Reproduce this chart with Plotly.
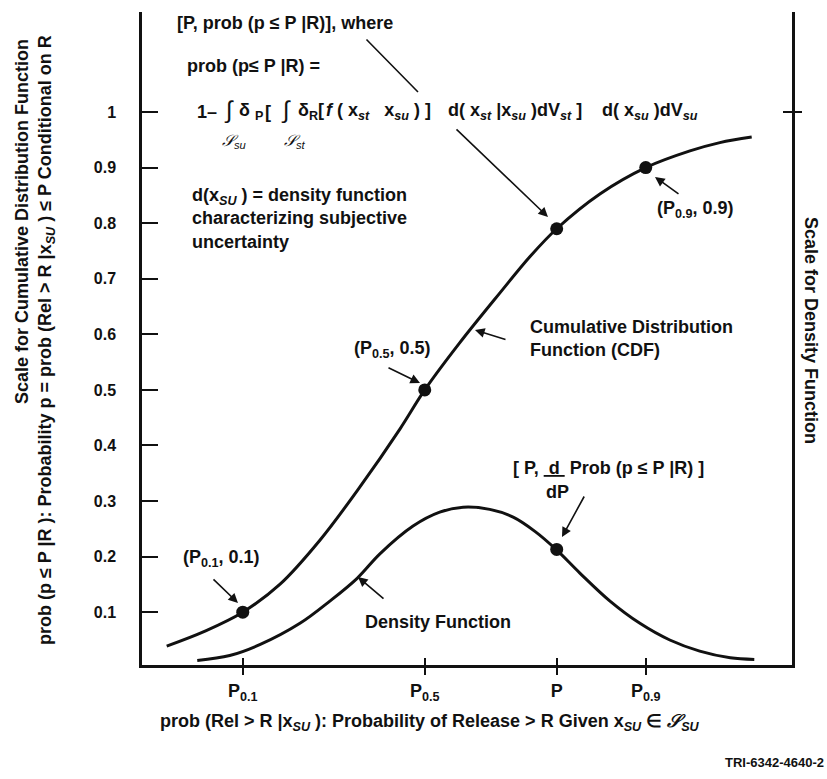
import plotly.graph_objects as go

# ---------------- data ----------------
cdf_x = [0.038, 0.097, 0.155, 0.212, 0.274, 0.335, 0.397, 0.435, 0.489, 0.551,
         0.597, 0.638, 0.705, 0.775, 0.843, 0.889, 0.938]
cdf_y = [0.039, 0.066, 0.100, 0.150, 0.230, 0.325, 0.430, 0.500, 0.585, 0.675,
         0.740, 0.790, 0.853, 0.900, 0.930, 0.945, 0.955]

dens_x = [0.085, 0.135, 0.182, 0.243, 0.289, 0.331, 0.366, 0.417, 0.458, 0.494,
          0.535, 0.571, 0.605, 0.637, 0.674, 0.720, 0.766, 0.812, 0.858, 0.905, 0.942]
dens_y = [0.013, 0.022, 0.042, 0.080, 0.120, 0.161, 0.205, 0.255, 0.280, 0.289,
          0.285, 0.271, 0.245, 0.213, 0.170, 0.120, 0.080, 0.050, 0.030, 0.018, 0.015]

x_tick_vals = [0.155, 0.435, 0.638, 0.775]
x_tick_text = ["P<sub>0.1</sub>", "P<sub>0.5</sub>", "P", "P<sub>0.9</sub>"]
cdf_pts_y = [0.10, 0.50, 0.79, 0.90]
dens_pt_x = [0.638]
dens_pt_y = [0.213]

y_tick_vals = [0.1, 0.2, 0.3, 0.4, 0.5, 0.6, 0.7, 0.8, 0.9, 1.0]
y_tick_text = ["0.1", "0.2", "0.3", "0.4", "0.5", "0.6", "0.7", "0.8", "0.9", "1"]
right_tick_vals = [1.0]

# ---------------- geometry helpers (pixels -> axis / paper units) ----------------
W, H = 827, 779
L, R, T, B = 142, 35, 12, 114
Y0, Y1 = 0.005, 1.18
PW, PH = W - L - R, H - T - B


def X(px):
    return (px - L) / PW


def Y(py):
    return Y0 + (H - B - py) / PH * (Y1 - Y0)


def PY(py):
    return (H - B - py) / PH


FONT = "Liberation Sans, Arial, Helvetica, sans-serif"
BLK = "#111111"
FS = 18

fig = go.Figure()
fig.add_trace(go.Scatter(x=cdf_x, y=cdf_y, mode="lines", line=dict(color=BLK, width=3, shape="spline"),
                         hoverinfo="skip", showlegend=False))
fig.add_trace(go.Scatter(x=dens_x, y=dens_y, mode="lines", line=dict(color=BLK, width=3, shape="spline"),
                         hoverinfo="skip", showlegend=False))
fig.add_trace(go.Scatter(x=x_tick_vals, y=cdf_pts_y, mode="markers", marker=dict(color=BLK, size=13),
                         hoverinfo="skip", showlegend=False))
fig.add_trace(go.Scatter(x=dens_pt_x, y=dens_pt_y, mode="markers", marker=dict(color=BLK, size=13),
                         hoverinfo="skip", showlegend=False))
# invisible traces to hold the auxiliary axes
fig.add_trace(go.Scatter(x=[None], y=[None], xaxis="x2", yaxis="y", showlegend=False))
fig.add_trace(go.Scatter(x=[None], y=[None], xaxis="x", yaxis="y2", showlegend=False))
fig.add_trace(go.Scatter(x=[None], y=[None], xaxis="x", yaxis="y3", showlegend=False))

ann = []


def text(px, py, s, xanchor="left", yanchor="middle", size=FS, angle=0, align="left", weight="bold"):
    ann.append(dict(x=X(px), y=PY(py), xref="paper", yref="paper", text=s, showarrow=False,
                    xanchor=xanchor, yanchor=yanchor, textangle=angle, align=align,
                    font=dict(family=FONT, size=size, color=BLK, weight=weight)))


def arrow(tx, ty, hx, hy, head=True):
    ann.append(dict(x=X(hx), y=Y(hy), ax=X(tx), ay=Y(ty), xref="x", yref="y", axref="x", ayref="y",
                    text="", showarrow=True, arrowhead=2 if head else 0, arrowsize=1.2,
                    arrowwidth=1.6, arrowcolor=BLK, standoff=0, startstandoff=0))


bx = "x"
text(175, 23, "[P, prob (p ≤ P |R)], where")
text(185, 66, "prob (p≤ P |R) =")
# formula, laid out piece by piece
FY = 112
text(195, FY, "1–")
text(222, FY - 2, "∫", size=24, weight="normal")
text(237, FY, "δ <sub>P</sub>")
text(263, FY, "[")
text(279, FY - 2, "∫", size=24, weight="normal")
text(296, FY, "δ<sub>R</sub>[")
text(324, FY, "<i>f</i> ( " + bx + "<sub><i>st</i></sub>   " + bx + "<sub><i>su</i></sub> ) ]")
text(446, FY, "d( " + bx + "<sub><i>st</i></sub> |" + bx + "<sub><i>su</i></sub> )dV<sub><i>st</i></sub> ]")
text(600, FY, "d( " + bx + "<sub><i>su</i></sub> )dV<sub><i>su</i></sub>")
text(220, 141, "<i>𝒮</i><sub><i>su</i></sub>", size=16, weight="normal")
text(282, 141, "<i>𝒮</i><sub><i>st</i></sub>", size=16, weight="normal")
text(190, 218, "d(" + bx + "<sub><i>SU</i></sub> ) = density function<br>characterizing subjective<br>uncertainty")
text(695, 210, "(P<sub>0.9</sub>, 0.9)", xanchor="center")
text(528, 338, "Cumulative Distribution<br>Function (CDF)")
text(392, 350, "(P<sub>0.5</sub>, 0.5)", xanchor="center")
text(511, 468, "[ P, <span style='text-decoration:underline'> d </span> Prob (p ≤ P |R) ]")
text(557, 492, "dP", xanchor="center")
text(221, 558, "(P<sub>0.1</sub>, 0.1)", xanchor="center")
text(363, 622, "Density Function")
text(811, 330, "Scale for Density Function", xanchor="center", angle=90)
text(22, 222, "Scale for Cumulative Distribution Function", xanchor="center", angle=-90)
text(46, 340, "prob (p ≤ P |R ): Probability p = prob (Rel > R |" + bx + "<sub><i>SU</i></sub> ) ≤ P Conditional on R",
     xanchor="center", angle=-90)
text(430, 722, "prob (Rel > R |" + bx + "<sub><i>SU</i></sub> ): Probability of Release > R Given " + bx +
     "<sub><i>SU</i></sub> ∈ <i>𝒮</i><sub><i>SU</i></sub>", xanchor="center")
text(826, 762, "TRI-6342-4640-2", xanchor="right", size=13)

arrow(365, 38, 418, 92, head=False)
arrow(455, 128, 548, 217)
arrow(680, 195, 655, 177)
arrow(507, 340, 475, 330)
arrow(387, 367, 420, 383)
arrow(585, 495, 562, 537)
arrow(212, 578, 238, 603)
arrow(385, 600, 358, 577)

fig.update_layout(
    width=W, height=H, margin=dict(l=L, r=R, t=T, b=B),
    paper_bgcolor="white", plot_bgcolor="white", showlegend=False,
    annotations=ann,
    xaxis=dict(range=[0, 1], showgrid=False, zeroline=False, showline=True, linecolor=BLK, linewidth=2.5,
               tickvals=x_tick_vals, ticktext=x_tick_text, ticks="outside", ticklen=7, tickwidth=1.5,
               tickcolor=BLK, ticklabelstandoff=1,
               tickfont=dict(family=FONT, size=FS, color=BLK, weight="bold")),
    xaxis2=dict(range=[0, 1], overlaying="x", side="bottom", showgrid=False, zeroline=False, showline=False,
                tickvals=x_tick_vals, ticks="inside", ticklen=7, tickwidth=1.5, tickcolor=BLK,
                showticklabels=False),
    yaxis=dict(range=[Y0, Y1], showgrid=False, zeroline=False, showline=True, linecolor=BLK, linewidth=2.5,
               mirror=True, tickvals=y_tick_vals, ticktext=y_tick_text, ticks="inside", ticklen=16,
               tickwidth=2, tickcolor=BLK, ticklabelstandoff=20,
               tickfont=dict(family=FONT, size=16, color=BLK, weight="bold")),
    yaxis2=dict(range=[Y0, Y1], overlaying="y", side="right", showgrid=False, zeroline=False, showline=False,
                tickvals=right_tick_vals, ticks="outside", ticklen=9, tickwidth=1.5, tickcolor=BLK,
                showticklabels=False),
    yaxis3=dict(range=[Y0, Y1], overlaying="y", side="right", showgrid=False, zeroline=False, showline=False,
                tickvals=right_tick_vals, ticks="inside", ticklen=9, tickwidth=1.5, tickcolor=BLK,
                showticklabels=False),
)

fig.write_html("out.html")
